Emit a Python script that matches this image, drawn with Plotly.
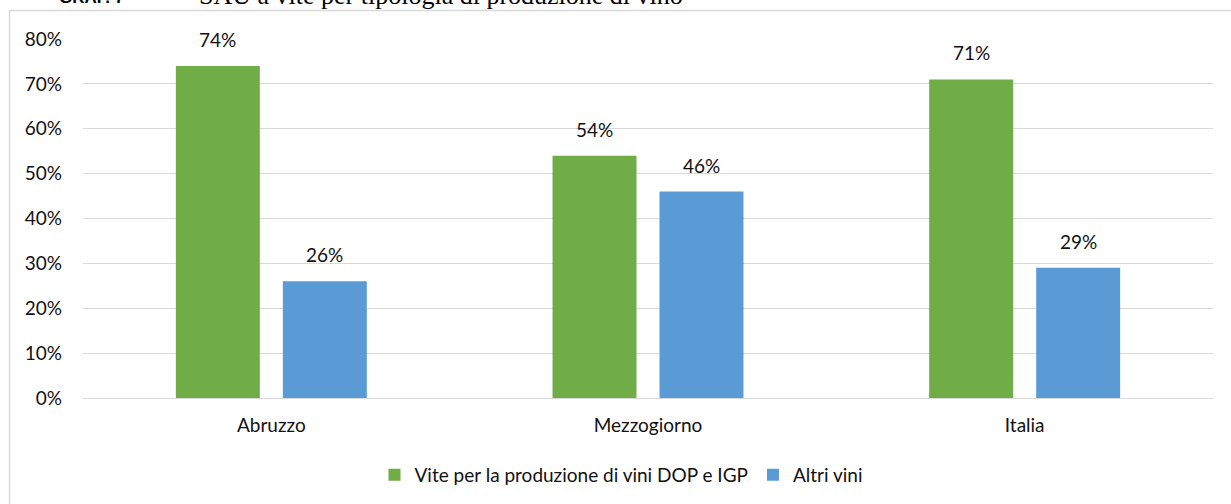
import plotly.graph_objects as go

categories = ["Abruzzo", "Mezzogiorno", "Italia"]
dop_igp = [74, 54, 71]
altri = [26, 46, 29]
series_names = ["Vite per la produzione di vini DOP e IGP", "Altri vini"]
colors = ["#70AD47", "#5B9BD5"]
y_ticks = [0, 10, 20, 30, 40, 50, 60, 70, 80]
y_tick_labels = [f"{v}%" for v in y_ticks]

W, H = 1231, 504
# plot area in window coordinates
PX0, PX1, PY0, PY1 = 83, 1213, 39, 398
L, T = PX0, PY0
R, B = W - PX1, H - PY1
pw, ph = PX1 - PX0, PY1 - PY0

def px(x):
    return (x - PX0) / pw

def py(y):
    return (PY1 - y) / ph

FONT = "Lato"
FS = 19
TXT = "#111111"

fig = go.Figure()
for name, vals, col in zip(series_names, [dop_igp, altri], colors):
    fig.add_trace(go.Bar(x=categories, y=vals, name=name, marker=dict(color=col, line=dict(width=0)),
                         hoverinfo="skip"))

annotations = []
for i, vals in enumerate([dop_igp, altri]):
    for c, v in zip(categories, vals):
        annotations.append(dict(
            x=c, y=v, xref="x", yref="y", text=f"{v}%", showarrow=False,
            xshift=(-53.5 if i == 0 else 53.5), yshift=13, yanchor="bottom",
            font=dict(family=FONT, size=FS, color=TXT)))

# title, cut off at the top edge as in the reference
annotations.append(dict(x=px(57), y=py(9), xref="paper", yref="paper", xanchor="left", yanchor="bottom",
                        text="<b>GRAF. 7</b>", showarrow=False,
                        font=dict(family="Liberation Sans", size=17, color="#000000")))
annotations.append(dict(x=px(197), y=py(12), xref="paper", yref="paper", xanchor="left", yanchor="bottom",
                        text="SAU a vite per tipologia di produzione di vino", showarrow=False,
                        font=dict(family="Liberation Serif", size=26, color="#000000")))

shapes = [dict(type="rect", xref="paper", yref="paper",
               x0=px(9.5), x1=px(1245), y0=py(10.5), y1=py(530),
               line=dict(color="#D9D9D9", width=1.5), fillcolor="rgba(0,0,0,0)", layer="below")]

fig.update_layout(
    width=W, height=H,
    margin=dict(l=L, r=R, t=T, b=B, pad=0, autoexpand=False),
    paper_bgcolor="white", plot_bgcolor="white",
    barmode="group", bargap=0.432, bargroupgap=0.215,
    font=dict(family=FONT, size=FS, color=TXT),
    showlegend=True,
    legend=dict(orientation="h", x=px(621), xanchor="center", y=py(475), yanchor="middle",
                font=dict(family=FONT, size=FS, color=TXT), itemwidth=30,
                traceorder="normal"),
    annotations=annotations,
    shapes=shapes,
    xaxis=dict(showgrid=False, showline=False, ticks="", ticklabelstandoff=14,
               tickfont=dict(family=FONT, size=FS, color=TXT)),
    yaxis=dict(range=[0, 80], tickvals=y_ticks, ticktext=y_tick_labels,
               showgrid=True, gridcolor="#D9D9D9", gridwidth=1.3,
               zeroline=True, zerolinecolor="#D9D9D9", zerolinewidth=1.3,
               showline=False, ticks="", ticklabelstandoff=20,
               tickfont=dict(family=FONT, size=FS, color=TXT)),
)

fig.write_html("out.html", config={"displayModeBar": False},
               post_script="document.body.style.margin='0';")
